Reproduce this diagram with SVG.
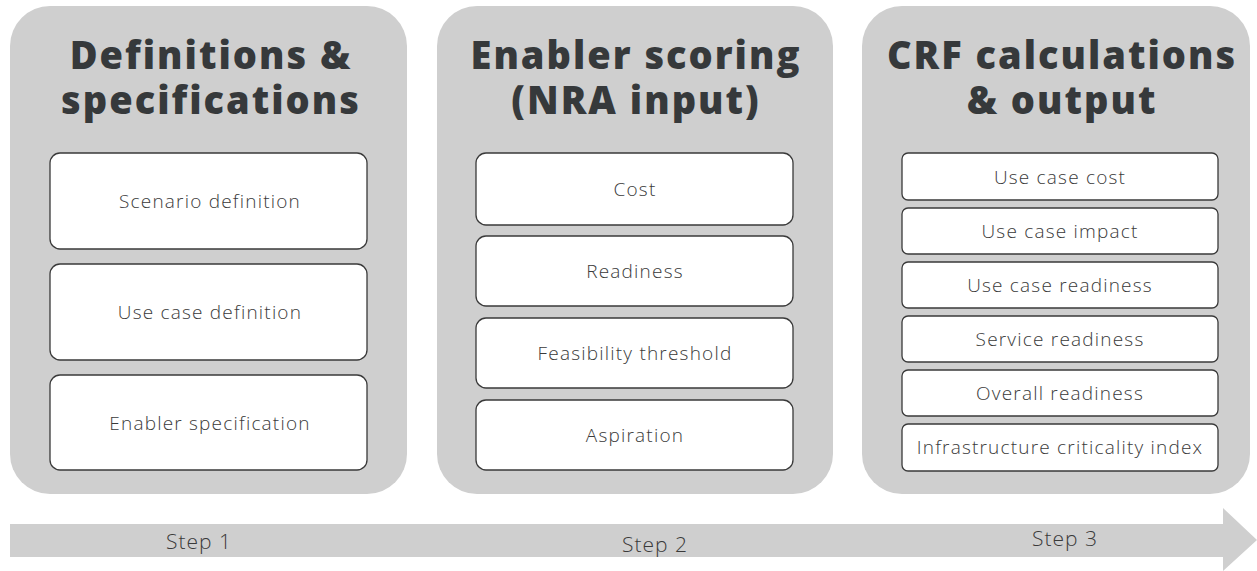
<svg xmlns="http://www.w3.org/2000/svg" width="1257" height="571" viewBox="0 0 1257 571">
<style>
.panel{fill:#cfcfcf}
.box{fill:#fff;stroke:#3a3a3a;stroke-width:1.3}
.title{font-family:"Open Sans","Liberation Sans",sans-serif;font-weight:800;font-size:38px;letter-spacing:2px;fill:#36393b;text-anchor:middle}
.lbl{font-family:"Open Sans","Liberation Sans",sans-serif;font-weight:300;font-size:19px;letter-spacing:1.2px;fill:#3a3a3a;text-anchor:middle}
.step{font-family:"Open Sans","Liberation Sans",sans-serif;font-weight:300;font-size:21px;letter-spacing:1px;fill:#3a3a3a;text-anchor:middle}
</style>
<rect width="1257" height="571" fill="#fff"/>
<g id="arrow">
<polygon class="panel" points="10,524 1223,524 1223,508 1257,540 1223,571 1223,557 10,557"/>
<text class="step" x="199" y="549">Step 1</text>
<text class="step" x="655" y="552">Step 2</text>
<text class="step" x="1065" y="546">Step 3</text>
</g>
<g id="panel1">
<rect class="panel" x="10" y="6" width="397" height="488" rx="40"/>
<text class="title"><tspan x="211" y="69">Definitions &amp;</tspan><tspan x="211" y="114">specifications</tspan></text>
<g id="n1a"><rect class="box" x="50" y="153" width="317" height="96" rx="10"/><text class="lbl" x="210" y="208">Scenario definition</text></g>
<g id="n1b"><rect class="box" x="50" y="264" width="317" height="96" rx="10"/><text class="lbl" x="210" y="319">Use case definition</text></g>
<g id="n1c"><rect class="box" x="50" y="375" width="317" height="95" rx="10"/><text class="lbl" x="210" y="430">Enabler specification</text></g>
</g>
<g id="panel2">
<rect class="panel" x="437" y="6" width="396" height="488" rx="40"/>
<text class="title"><tspan x="636" y="69">Enabler scoring</tspan><tspan x="636" y="114">(NRA input)</tspan></text>
<g id="n2a"><rect class="box" x="476" y="153" width="317" height="72" rx="10"/><text class="lbl" x="635" y="196">Cost</text></g>
<g id="n2b"><rect class="box" x="476" y="236" width="317" height="70" rx="10"/><text class="lbl" x="635" y="278">Readiness</text></g>
<g id="n2c"><rect class="box" x="476" y="318" width="317" height="70" rx="10"/><text class="lbl" x="635" y="360">Feasibility threshold</text></g>
<g id="n2d"><rect class="box" x="476" y="400" width="317" height="70" rx="10"/><text class="lbl" x="635" y="442">Aspiration</text></g>
</g>
<g id="panel3">
<rect class="panel" x="862" y="6" width="388" height="488" rx="40"/>
<text class="title"><tspan x="1062" y="69">CRF calculations</tspan><tspan x="1062" y="114">&amp; output</tspan></text>
<g id="n3a"><rect class="box" x="902" y="153" width="316" height="47" rx="6"/><text class="lbl" x="1060" y="184">Use case cost</text></g>
<g id="n3b"><rect class="box" x="902" y="208" width="316" height="46" rx="6"/><text class="lbl" x="1060" y="238">Use case impact</text></g>
<g id="n3c"><rect class="box" x="902" y="262" width="316" height="46" rx="6"/><text class="lbl" x="1060" y="292">Use case readiness</text></g>
<g id="n3d"><rect class="box" x="902" y="316" width="316" height="46" rx="6"/><text class="lbl" x="1060" y="346">Service readiness</text></g>
<g id="n3e"><rect class="box" x="902" y="370" width="316" height="46" rx="6"/><text class="lbl" x="1060" y="400">Overall readiness</text></g>
<g id="n3f"><rect class="box" x="902" y="424" width="316" height="47" rx="6"/><text class="lbl" x="1060" y="454">Infrastructure criticality index</text></g>
</g>
</svg>
